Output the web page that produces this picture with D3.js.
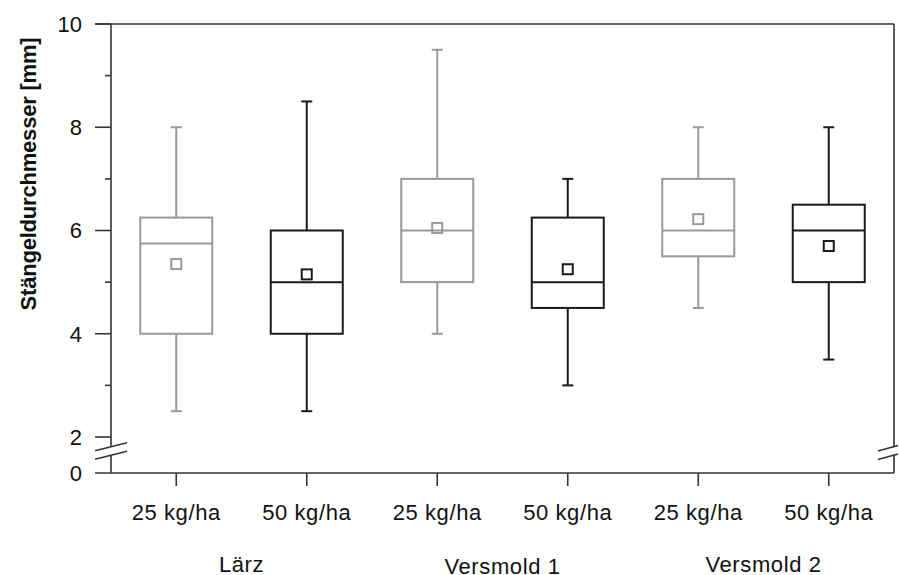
<!DOCTYPE html>
<html>
<head>
<meta charset="utf-8">
<script src="https://cdn.jsdelivr.net/npm/d3@7"></script>
<style>
  body { margin: 0; background: #fff; }
  text { font-family: "Liberation Sans", Arial, sans-serif; fill: #111; }
</style>
</head>
<body>
<script>
// data
var doses = ["25 kg/ha", "50 kg/ha", "25 kg/ha", "50 kg/ha", "25 kg/ha", "50 kg/ha"];
var sites = ["Lärz", "Versmold 1", "Versmold 2"];
var whiskerHigh = [8.0, 8.5, 9.5, 7.0, 8.0, 8.0];
var q3 = [6.25, 6.0, 7.0, 6.25, 7.0, 6.5];
var median = [5.75, 5.0, 6.0, 5.0, 6.0, 6.0];
var q1 = [4.0, 4.0, 5.0, 4.5, 5.5, 5.0];
var whiskerLow = [2.5, 2.5, 4.0, 3.0, 4.5, 3.5];
var mean = [5.35, 5.15, 6.05, 5.25, 6.22, 5.7];
var yTicks = [2, 4, 6, 8, 10];
var yMinor = [3, 5, 7, 9];

var width = 899,
    height = 575;

var pLeft = 111, pRight = 894, pTop = 24, pBottom = 473;

var svg = d3.select("body").append("svg")
  .attr("width", width)
  .attr("height", height);

var x = d3.scaleBand()
  .domain(d3.range(doses.length))
  .range([pLeft, pRight]);

// broken axis: 2..10 linear, 0 placed below the break
var y = d3.scaleLinear()
  .domain([2, 10])
  .range([437, pTop]);

var data = doses.map(function(d, i) {
  return {dose: d, i: i, hi: whiskerHigh[i], q3: q3[i], med: median[i],
          q1: q1[i], lo: whiskerLow[i], mean: mean[i],
          color: i % 2 == 0 ? "#999999" : "#1a1a1a"};
});

var frame = "#333";
var fs = 22;

// frame
var g = svg.append("g").attr("stroke", frame).attr("stroke-width", 1.6).attr("fill", "none");
g.append("line").attr("x1", pLeft - 16).attr("x2", pRight).attr("y1", pTop).attr("y2", pTop);
g.append("line").attr("x1", pLeft - 16).attr("x2", pRight).attr("y1", pBottom).attr("y2", pBottom);
g.append("line").attr("x1", pLeft).attr("x2", pLeft).attr("y1", pTop).attr("y2", 446.5);
g.append("line").attr("x1", pLeft).attr("x2", pLeft).attr("y1", 455.5).attr("y2", pBottom);
g.append("line").attr("x1", pRight).attr("x2", pRight).attr("y1", pTop).attr("y2", 447);
g.append("line").attr("x1", pRight).attr("x2", pRight).attr("y1", 455).attr("y2", pBottom);

// break marks
[0, 8.5].forEach(function(off) {
  g.append("line").attr("x1", pLeft - 16).attr("y1", 450.7 + off)
    .attr("x2", pLeft + 16).attr("y2", 442.7 + off);
  g.append("line").attr("x1", pRight - 16).attr("y1", 451 + off)
    .attr("x2", pRight + 4).attr("y2", 445.5 + off);
});

// y ticks
var yAxis = svg.append("g");
yTicks.forEach(function(t) {
  yAxis.append("line").attr("x1", pLeft - 16).attr("x2", pLeft)
    .attr("y1", y(t)).attr("y2", y(t)).attr("stroke", frame).attr("stroke-width", 1.6);
  yAxis.append("text").attr("x", 82).attr("y", y(t)).attr("dy", "0.36em")
    .attr("text-anchor", "end").attr("font-size", fs).text(t);
});
yMinor.forEach(function(t) {
  yAxis.append("line").attr("x1", pLeft - 6).attr("x2", pLeft)
    .attr("y1", y(t)).attr("y2", y(t)).attr("stroke", frame).attr("stroke-width", 1.6);
});
yAxis.append("text").attr("x", 82).attr("y", pBottom).attr("dy", "0.36em")
  .attr("text-anchor", "end").attr("font-size", fs).text(0);

svg.append("text")
  .attr("transform", "translate(36," + 174 + ") rotate(-90)")
  .attr("text-anchor", "middle")
  .attr("font-size", fs)
  .attr("font-weight", "bold")
  .attr("letter-spacing", -0.2)
  .text("Stängeldurchmesser [mm]");

// x ticks and labels
var xAxis = svg.append("g");
data.forEach(function(d) {
  var cx = x(d.i) + x.bandwidth() / 2;
  xAxis.append("line").attr("x1", cx).attr("x2", cx).attr("y1", pBottom).attr("y2", pBottom + 13)
    .attr("stroke", frame).attr("stroke-width", 1.6);
  xAxis.append("text").attr("x", cx).attr("y", 520).attr("text-anchor", "middle")
    .attr("font-size", fs).attr("letter-spacing", 0.6).text(d.dose);
});
var siteDy = [0, 2, 0];
sites.forEach(function(s, k) {
  var cx = x(2 * k + 1);
  xAxis.append("text").attr("x", cx).attr("y", 572 + siteDy[k]).attr("text-anchor", "middle")
    .attr("font-size", fs).attr("letter-spacing", 0.6).text(s);
});

// boxes
var boxW = 72, capW = 11, m = 10;
var box = svg.selectAll(".box")
  .data(data)
  .enter()
.append("g")
  .attr("class", "box")
  .attr("transform", function(d) { return "translate(" + (x(d.i) + x.bandwidth() / 2) + ",0)"; })
  .attr("stroke", function(d) { return d.color; })
  .attr("stroke-width", 2)
  .attr("fill", "none");

box.append("line").attr("x1", 0).attr("x2", 0)
  .attr("y1", function(d) { return y(d.hi); }).attr("y2", function(d) { return y(d.q3); });
box.append("line").attr("x1", 0).attr("x2", 0)
  .attr("y1", function(d) { return y(d.q1); }).attr("y2", function(d) { return y(d.lo); });
box.append("line").attr("x1", -capW / 2).attr("x2", capW / 2)
  .attr("y1", function(d) { return y(d.hi); }).attr("y2", function(d) { return y(d.hi); });
box.append("line").attr("x1", -capW / 2).attr("x2", capW / 2)
  .attr("y1", function(d) { return y(d.lo); }).attr("y2", function(d) { return y(d.lo); });
box.append("rect").attr("x", -boxW / 2).attr("width", boxW)
  .attr("y", function(d) { return y(d.q3); })
  .attr("height", function(d) { return y(d.q1) - y(d.q3); });
box.append("line").attr("x1", -boxW / 2).attr("x2", boxW / 2)
  .attr("y1", function(d) { return y(d.med); }).attr("y2", function(d) { return y(d.med); });
box.append("rect").attr("x", -m / 2).attr("width", m)
  .attr("y", function(d) { return y(d.mean) - m / 2; }).attr("height", m);
</script>
</body>
</html>
